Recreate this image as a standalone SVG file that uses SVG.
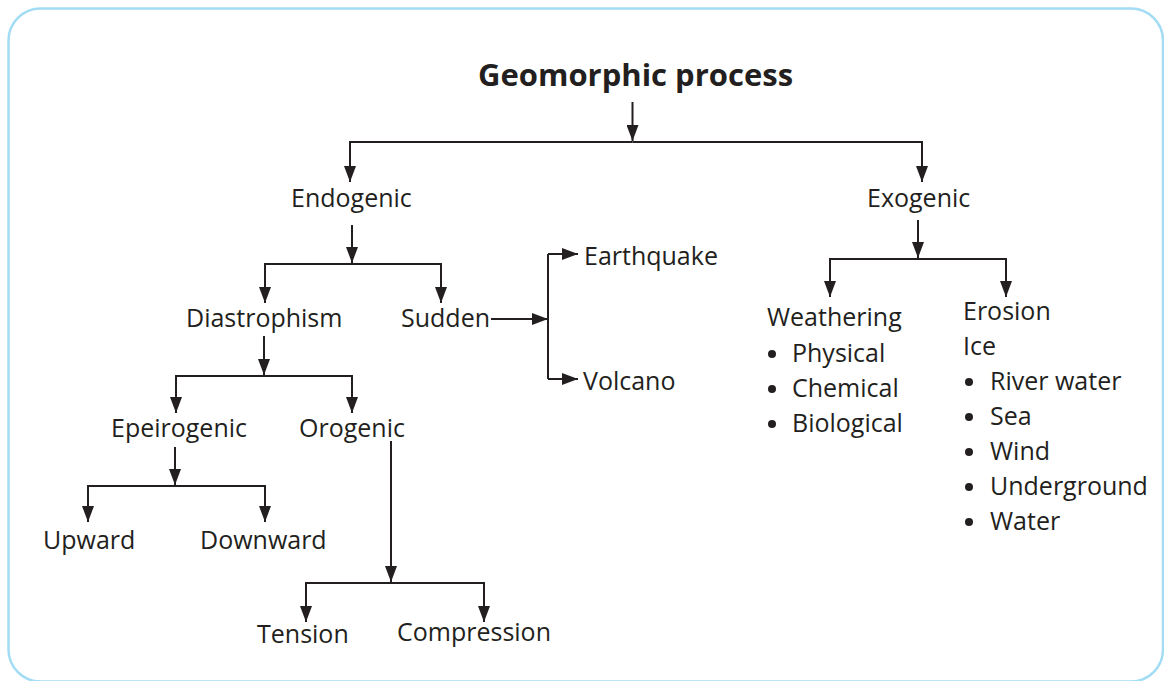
<svg xmlns="http://www.w3.org/2000/svg" width="1164" height="681" viewBox="0 0 1164 681">
<defs>
<marker id="ah" markerUnits="userSpaceOnUse" markerWidth="16" markerHeight="12" refX="16" refY="6" orient="auto">
<path d="M0,0 L16,6 L0,12 z" fill="#231f20"/>
</marker>
<style>
text{font-family:"Open Sans","Noto Sans","Liberation Sans",sans-serif;font-size:25px;fill:#231f20}
.title{font-weight:bold;font-size:31px}
.c path{fill:none;stroke:#231f20;stroke-width:2}
.a{marker-end:url(#ah)}
.b{fill:#231f20}
</style>
</defs>
<rect x="0" y="0" width="1164" height="681" fill="#ffffff"/>
<rect x="8.5" y="8.5" width="1154.5" height="673" rx="32" ry="32" fill="none" stroke="#a3dcf5" stroke-width="2.5"/>
<g class="c" id="connectors">
<path class="a" d="M632.5,102 V141"/>
<path class="a" d="M632.5,142 H350 V182"/>
<path class="a" d="M632.5,142 H922 V182"/>
<path class="a" d="M352,225 V263"/>
<path class="a" d="M352,264 H265 V303"/>
<path class="a" d="M352,264 H441 V303"/>
<path class="a" d="M491,319 H548"/>
<path d="M548,254 V379"/>
<path class="a" d="M548,254 H578"/>
<path class="a" d="M548,379 H578"/>
<path class="a" d="M264,336 V375"/>
<path class="a" d="M264,376 H176 V413"/>
<path class="a" d="M264,376 H352 V413"/>
<path class="a" d="M175,447 V485"/>
<path class="a" d="M175,486 H88 V522"/>
<path class="a" d="M175,486 H265 V522"/>
<path class="a" d="M391,441 V582"/>
<path class="a" d="M391,583 H306 V622"/>
<path class="a" d="M391,583 H484 V622"/>
<path class="a" d="M918,220 V258"/>
<path class="a" d="M918,259 H830 V297"/>
<path class="a" d="M918,259 H1006 V297"/>
</g>
<g id="title"><text class="title" x="478" y="86">Geomorphic process</text></g>
<g id="endogenic"><text x="291" y="207">Endogenic</text></g>
<g id="exogenic"><text x="867" y="207">Exogenic</text></g>
<g id="diastrophism"><text x="186" y="327">Diastrophism</text></g>
<g id="sudden"><text x="401" y="327">Sudden</text></g>
<g id="earthquake"><text x="584" y="265">Earthquake</text></g>
<g id="volcano"><text x="583" y="390">Volcano</text></g>
<g id="epeirogenic"><text x="111" y="437">Epeirogenic</text></g>
<g id="orogenic"><text x="299" y="437">Orogenic</text></g>
<g id="upward"><text x="43" y="549">Upward</text></g>
<g id="downward"><text x="200" y="549">Downward</text></g>
<g id="tension"><text x="257" y="643">Tension</text></g>
<g id="compression"><text x="397" y="641">Compression</text></g>
<g id="weathering">
<text x="767" y="326">Weathering</text>
<circle class="b" cx="772" cy="354" r="4"/><text x="792" y="362">Physical</text>
<circle class="b" cx="772" cy="389" r="4"/><text x="792" y="397">Chemical</text>
<circle class="b" cx="772" cy="424" r="4"/><text x="792" y="432">Biological</text>
</g>
<g id="erosion">
<text x="963" y="320">Erosion</text>
<text x="963" y="355">Ice</text>
<circle class="b" cx="969" cy="382" r="4"/><text x="990" y="390">River water</text>
<circle class="b" cx="969" cy="417" r="4"/><text x="990" y="425">Sea</text>
<circle class="b" cx="969" cy="452" r="4"/><text x="990" y="460">Wind</text>
<circle class="b" cx="969" cy="487" r="4"/><text x="990" y="495">Underground</text>
<circle class="b" cx="969" cy="522" r="4"/><text x="990" y="530">Water</text>
</g>
</svg>
